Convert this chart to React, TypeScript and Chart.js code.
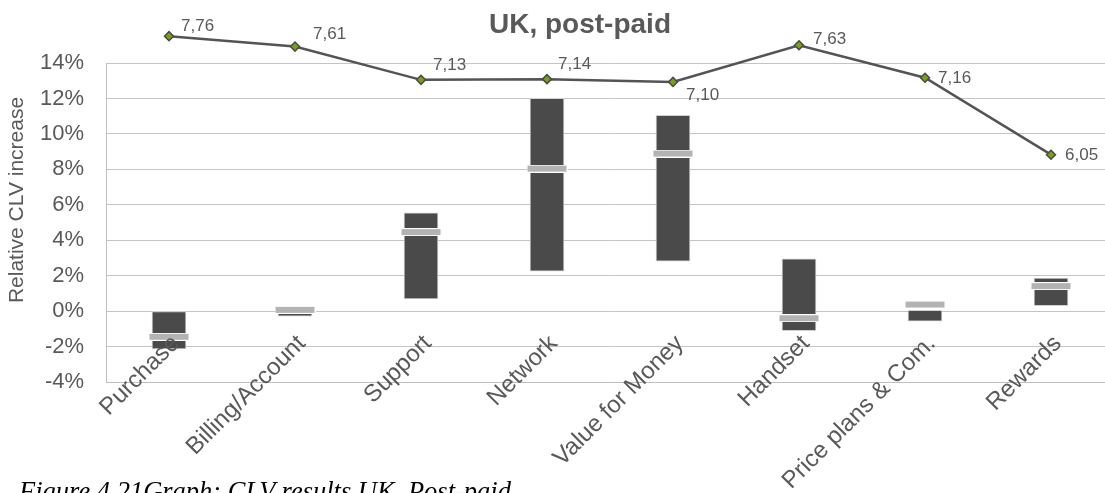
import React, { useEffect, useRef } from 'react';
import { Chart, registerables } from 'chart.js';

Chart.register(...registerables);

const chartTitle = 'UK, post-paid';
const yAxisTitle = 'Relative CLV increase';
const captionText = 'Figure 4.21Graph: CLV results UK, Post-paid';

const categories = [
  'Purchase',
  'Billing/Account',
  'Support',
  'Network',
  'Value for Money',
  'Handset',
  'Price plans & Com.',
  'Rewards',
];
const rangeLow = [-2.13, -0.28, 0.69, 2.26, 2.82, -1.1, -0.57, 0.3];
const rangeHigh = [0, 0, 5.54, 12.0, 11.05, 2.95, 0.05, 1.86];
const meanValues = [-1.45, 0.07, 4.46, 8.04, 8.89, -0.4, 0.37, 1.41];
const clvValues = [7.76, 7.61, 7.13, 7.14, 7.1, 7.63, 7.16, 6.05];
const clvLabels = ['7,76', '7,61', '7,13', '7,14', '7,10', '7,63', '7,16', '6,05'];
const yTickValues = [-4, -2, 0, 2, 4, 6, 8, 10, 12, 14];

const FONT = '"Liberation Sans", Arial, Helvetica, sans-serif';
const TEXT = '#595959';

function makeMarker(): HTMLCanvasElement {
  const c = document.createElement('canvas');
  c.width = 41;
  c.height = 8;
  const ctx = c.getContext('2d')!;
  ctx.fillStyle = '#ffffff';
  ctx.fillRect(0, 0, 41, 8);
  ctx.fillStyle = '#b3b3b3';
  ctx.fillRect(1, 1, 39, 6);
  return c;
}

const textPlugin = {
  id: 'customText',
  afterDraw(chart: any) {
    const ctx = chart.ctx;
    // chart title
    ctx.save();
    ctx.font = `bold 28px ${FONT}`;
    ctx.fillStyle = TEXT;
    ctx.textAlign = 'center';
    ctx.textBaseline = 'alphabetic';
    ctx.fillText(chartTitle, 580, 33);
    ctx.restore();

    // y axis title
    ctx.save();
    ctx.translate(17.5, 200);
    ctx.rotate(-Math.PI / 2);
    ctx.font = `21px ${FONT}`;
    ctx.fillStyle = TEXT;
    ctx.textAlign = 'center';
    ctx.textBaseline = 'middle';
    ctx.fillText(yAxisTitle, 0, 0);
    ctx.restore();

    // category labels, rotated 45 degrees, ending near the category centre
    const xScale = chart.scales.x;
    categories.forEach((label, i) => {
      const px = xScale.getPixelForTick(i);
      ctx.save();
      ctx.translate(px + 11.5, 344.5);
      ctx.rotate(-Math.PI / 4);
      ctx.font = `24px ${FONT}`;
      ctx.fillStyle = TEXT;
      ctx.textAlign = 'right';
      ctx.textBaseline = 'alphabetic';
      ctx.fillText(label, 0, 0);
      ctx.restore();
    });
  },
};

const labelPlugin = {
  id: 'clvLabels',
  afterDatasetsDraw(chart: any, _args: any, opts: any) {
    const meta = chart.getDatasetMeta(2);
    const ctx = chart.ctx;
    ctx.save();
    ctx.font = `17px ${FONT}`;
    ctx.fillStyle = TEXT;
    ctx.textAlign = 'left';
    ctx.textBaseline = 'middle';
    meta.data.forEach((pt: any, i: number) => {
      ctx.fillText(clvLabels[i], pt.x + opts.dx[i], pt.y + opts.dy[i]);
    });
    ctx.restore();
  },
};

export default function App() {
  const ref = useRef<HTMLCanvasElement>(null);

  useEffect(() => {
    if (!ref.current) return;
    const marker = makeMarker();
    const chart = new Chart(ref.current, {
      type: 'bar',
      data: {
        labels: categories,
        datasets: [
          {
            type: 'bar',
            label: 'Range',
            data: categories.map((_, i) => [rangeLow[i], rangeHigh[i]]) as any,
            backgroundColor: '#4a4a4b',
            borderColor: '#d2d2d2',
            borderWidth: 1,
            borderSkipped: false,
            barThickness: 34,
            yAxisID: 'y',
            order: 3,
          },
          {
            type: 'line',
            label: 'Mean',
            data: meanValues,
            showLine: false,
            pointStyle: marker as any,
            pointRadius: 3,
            pointHoverRadius: 3,
            yAxisID: 'y',
            order: 2,
          },
          {
            type: 'line',
            label: 'CLV',
            data: clvValues,
            borderColor: '#545454',
            borderWidth: 2.5,
            pointStyle: 'rectRot',
            pointRadius: 4.5,
            pointHoverRadius: 40,
            pointBackgroundColor: '#78a01c',
            pointBorderColor: '#4a4a4a',
            pointBorderWidth: 1.5,
            yAxisID: 'y2',
            clip: false as any,
            tension: 0,
            order: 1,
          },
        ],
      },
      options: {
        animation: false,
        responsive: false,
        events: [],
        layout: { autoPadding: false, padding: { top: 63, right: 6, bottom: 0, left: 0 } },
        plugins: {
          legend: { display: false },
          tooltip: { enabled: false },
          title: { display: false },
          clvLabels: {
            dx: [12, 18, 12, 11, 13, 14, 13, 14],
            dy: [-10, -12, -15, -14.5, 13.5, -6, 1, 0.5],
          },
        } as any,
        scales: {
          x: {
            type: 'category',
            offset: true,
            grid: { display: false, drawTicks: false },
            border: { display: true, color: '#bfbfbf', width: 1 },
            ticks: { display: false },
            afterFit(scale: any) {
              scale.height = 111;
            },
          },
          y: {
            type: 'linear',
            min: -4,
            max: 14,
            afterBuildTicks(scale: any) {
              scale.ticks = yTickValues.map((v) => ({ value: v }));
            },
            ticks: {
              color: TEXT,
              font: { family: FONT, size: 22 },
              padding: 22,
              callback: (v: any) => `${v}%`,
            },
            grid: { color: '#c4c4c4', lineWidth: 1, drawTicks: false },
            border: { display: true, color: '#bfbfbf', width: 1 },
            title: { display: false },
            afterFit(scale: any) {
              scale.width = 106;
            },
          },
          y2: {
            type: 'linear',
            display: false,
            min: 2.77,
            max: 7.373,
            grid: { display: false },
          },
        },
      },
      plugins: [textPlugin, labelPlugin],
    });
    return () => chart.destroy();
  }, []);

  return (
    <div
      style={{
        position: 'absolute',
        left: 0,
        top: 0,
        width: 1105,
        height: 493,
        overflow: 'hidden',
        background: '#ffffff',
      }}
    >
      <canvas ref={ref} width={1120} height={493} style={{ display: 'block' }} />
      <div
        style={{
          position: 'absolute',
          left: 19,
          top: 478,
          fontFamily: '"Liberation Serif", "Times New Roman", serif',
          fontStyle: 'italic',
          fontSize: '26.5px',
          lineHeight: '26.5px',
          color: '#000000',
          whiteSpace: 'nowrap',
        }}
      >
        {captionText}
      </div>
    </div>
  );
}
